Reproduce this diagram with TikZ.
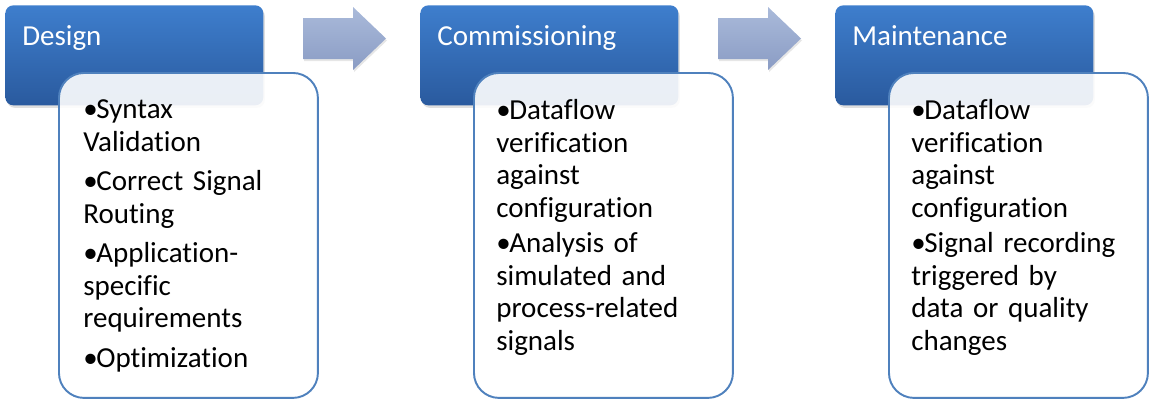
\documentclass[tikz,border=0pt]{standalone}
\usepackage{fontspec}
\setmainfont[Ligatures=NoCommon]{Carlito}
\usetikzlibrary{shadows,positioning}

\definecolor{headtop}{RGB}{62,126,205}
\definecolor{headbot}{RGB}{42,90,158}
\definecolor{boxline}{RGB}{79,129,189}
\definecolor{arrtop}{RGB}{170,186,218}
\definecolor{arrbot}{RGB}{138,156,196}

% bullet with hanging indent
\newcommand{\bitem}[1]{\par\hangindent=0.26cm\hangafter=1\noindent\makebox[0.26cm][l]{\textbullet}#1}
\newcommand{\topstrut}{\rule{0pt}{0.5cm}}

\begin{document}
\begin{tikzpicture}[x=0.02cm,y=-0.02cm,
    stagehead/.style={rectangle,rounded corners=0.16cm,inner sep=0pt,
        minimum width=5.16cm,minimum height=2cm,anchor=north west,
        top color=headtop,bottom color=headbot,
        drop shadow={shadow xshift=0.03cm,shadow yshift=-0.05cm,opacity=0.25}},
    stagetitle/.style={anchor=base west,inner sep=0pt,text=white,
        font=\fontsize{16.5pt}{18.5pt}\selectfont},
    stagebox/.style={rectangle,rounded corners=0.5cm,inner sep=0pt,
        minimum width=5.18cm,minimum height=6.5cm,anchor=north west,
        draw=boxline,line width=1.1pt,fill=white,fill opacity=0.9},
    stagelist/.style={anchor=north west,inner sep=0pt,text width=5cm,
        font=\fontsize{16.5pt}{18.5pt}\selectfont},
    stagearrow/.style={top color=arrtop,bottom color=arrbot,
        drop shadow={shadow xshift=0.02cm,shadow yshift=-0.04cm,opacity=0.2}}]

    \useasboundingbox (0,0) rectangle (1149,399);

    % headers
    \node[stagehead] (designhead) at (5,5) {};
    \node[stagehead] (commhead) at (420,5) {};
    \node[stagehead] (mainthead) at (835,5) {};
    \node[stagetitle] (designtitle) at (22,45) {Design};
    \node[stagetitle] (commtitle) at (437,45) {Commissioning};
    \node[stagetitle] (mainttitle) at (852,45) {Maintenance};

    % arrows between stages
    \shade[stagearrow] (303,18) -- (353,18) -- (353,7) -- (386,38.5)
        -- (353,70) -- (353,59) -- (303,59) -- cycle;
    \shade[stagearrow] (718,18) -- (768,18) -- (768,7) -- (801,38.5)
        -- (768,70) -- (768,59) -- (718,59) -- cycle;

    % content boxes
    \node[stagebox] (designbox) at (58,72) {};
    \node[stagebox] (commbox) at (473,72) {};
    \node[stagebox] (maintbox) at (888,72) {};

    \node[stagelist] (designlist) at (83,79) {\setlength{\parskip}{0.14cm}%
        \bitem{\topstrut Syntax\\Validation}
        \bitem{Correct Signal\\Routing}
        \bitem{Application-\\specific\\requirements}
        \bitem{Optimization}};
    \node[stagelist] (commlist) at (496,84) {\setlength{\parskip}{0.06cm}%
        \bitem{\topstrut Dataflow\\verification\\against\\configuration}
        \bitem{Analysis of\\simulated and\\process-related\\signals}};
    \node[stagelist] (maintlist) at (911,84) {\setlength{\parskip}{0.06cm}%
        \bitem{\topstrut Dataflow\\verification\\against\\configuration}
        \bitem{Signal recording\\triggered by\\data or quality\\changes}};
\end{tikzpicture}
\end{document}
